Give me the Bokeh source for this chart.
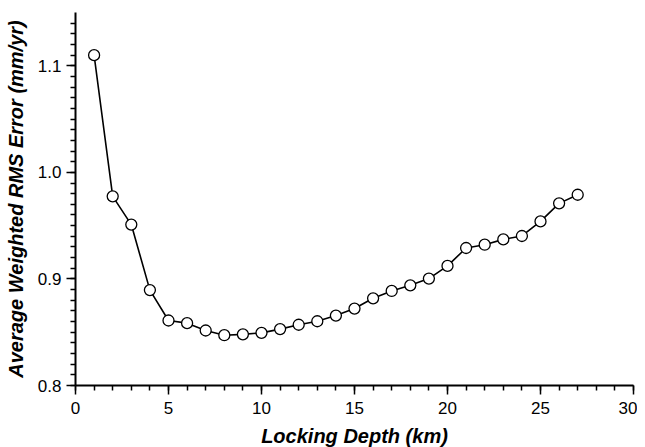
from bokeh.plotting import figure
from bokeh.models import SingleIntervalTicker, PrintfTickFormatter, Range1d
from bokeh.embed import file_html
from bokeh.resources import INLINE

depth_km = [1, 2, 3, 4, 5, 6, 7, 8, 9, 10, 11, 12, 13, 14, 15, 16, 17, 18, 19, 20,
            21, 22, 23, 24, 25, 26, 27]
rms_error = [1.110, 0.9775, 0.951, 0.8895, 0.861, 0.8585, 0.8516, 0.8472, 0.848, 0.8494,
             0.8529, 0.857, 0.8603, 0.8656, 0.8722, 0.8818, 0.8887, 0.894, 0.9003, 0.9122,
             0.929, 0.9321, 0.9371, 0.9403, 0.954, 0.9709, 0.979]

x_label = "Locking Depth (km)"
y_label = "Average Weighted RMS Error (mm/yr)"

p = figure(width=637, height=445, output_backend="svg", toolbar_location=None,
           x_range=Range1d(0, 30), y_range=Range1d(0.8, 1.15),
           frame_width=558, frame_height=373,
           min_border_left=75, min_border_top=12, min_border_right=4, min_border_bottom=60)
p.outline_line_color = None
p.xgrid.visible = False
p.ygrid.visible = False
p.background_fill_color = "white"
p.border_fill_color = "white"

p.line(depth_km, rms_error, line_color="black", line_width=1.6)
p.scatter(depth_km, rms_error, size=11, fill_color="white", line_color="black", line_width=1.3)

for ax in (p.xaxis[0], p.yaxis[0]):
    ax.axis_line_width = 2
    ax.axis_line_color = "black"
    ax.major_tick_line_width = 1.5
    ax.minor_tick_line_width = 1.5
    ax.major_tick_line_color = "black"
    ax.minor_tick_line_color = "black"
    ax.major_tick_in = 0
    ax.minor_tick_in = 0
    ax.major_tick_out = 9
    ax.minor_tick_out = 5
    ax.major_label_text_font = "Liberation Sans"
    ax.major_label_text_font_size = "17px"
    ax.major_label_text_color = "black"
    ax.axis_label_text_font = "Liberation Sans"
    ax.axis_label_text_font_size = "20px"
    ax.axis_label_text_font_style = "bold italic"
    ax.axis_label_text_color = "black"

p.xaxis[0].ticker = SingleIntervalTicker(interval=5, num_minor_ticks=5)
p.yaxis[0].ticker = SingleIntervalTicker(interval=0.1, num_minor_ticks=10)
p.yaxis[0].formatter = PrintfTickFormatter(format="%.1f")
p.xaxis[0].axis_label = x_label
p.yaxis[0].axis_label = y_label
p.xaxis[0].major_label_standoff = 7
p.yaxis[0].major_label_standoff = 5
p.xaxis[0].axis_label_standoff = 8
p.yaxis[0].axis_label_standoff = 8

open("out.html", "w").write(file_html(p, INLINE))
